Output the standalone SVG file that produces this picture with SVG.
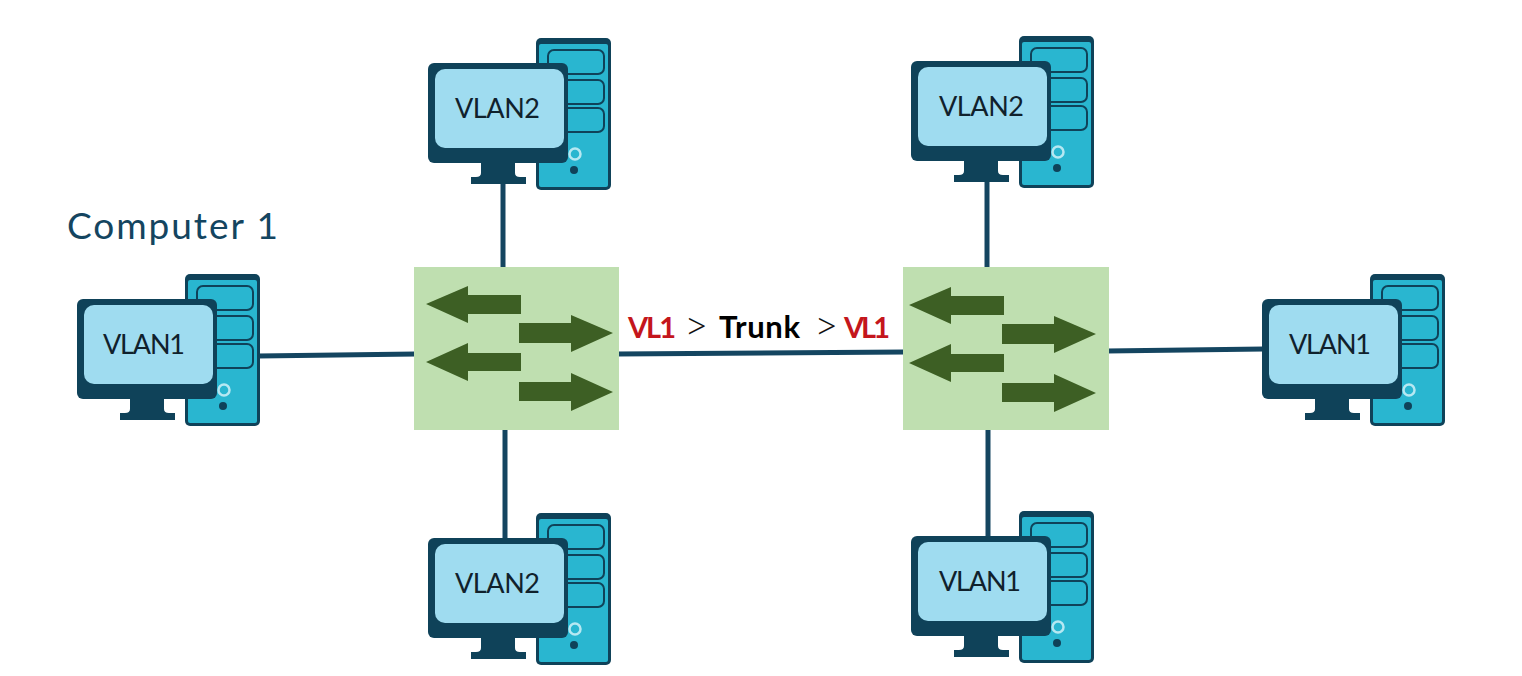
<svg xmlns="http://www.w3.org/2000/svg" width="1522" height="676" viewBox="0 0 1522 676">
<style>
.wire{stroke:#144560;stroke-width:5;fill:none}
.sw{fill:#bfdfb0}
.ar{fill:#3d5f24}
.t{font-family:"Lato","Liberation Sans",sans-serif}
.vl{font-size:27px;font-weight:400;fill:#10212c}
.cap{font-size:37px;font-weight:400;fill:#144560}
.tr{font-size:31px;font-weight:700;fill:#000}
.red{font-size:29px;font-weight:700;fill:#c4161c}
.gt{font-size:42px;font-weight:300;fill:#111}
</style>
<defs>
<g id="pc">
<rect x="108" y="0" width="75" height="152" rx="5" fill="#0f4259"/>
<rect x="111" y="6" width="69" height="143" rx="2" fill="#29b6d0"/>
<rect x="120" y="12" width="56" height="24" rx="6" fill="#29b6d0" stroke="#0f4259" stroke-width="2"/>
<rect x="120" y="42" width="56" height="24" rx="6" fill="#29b6d0" stroke="#0f4259" stroke-width="2"/>
<rect x="120" y="70" width="56" height="24" rx="6" fill="#29b6d0" stroke="#0f4259" stroke-width="2"/>
<circle cx="147" cy="116" r="5.5" fill="#29b6d0" stroke="#b6e8f2" stroke-width="2.5"/>
<circle cx="146" cy="132" r="4" fill="#0f4259"/>
<path d="M53 125H87V135Q87 139 92 139H98V146H43V139H48Q53 139 53 135Z" fill="#0f4259"/>
<rect x="0" y="25" width="140" height="100" rx="6" fill="#0f4259"/>
<rect x="7" y="31" width="129" height="79" rx="10" fill="#9fdcf0"/>
</g>
<g id="arrows" class="ar">
<polygon points="12,37 54,19 54,28 107,28 107,47 54,47 54,56"/>
<polygon points="105,56 157,56 157,48 199,66 157,85 157,76 105,76"/>
<polygon points="12,95 54,76 54,86 107,86 107,104 54,104 54,114"/>
<polygon points="105,115 157,115 157,106 199,125 157,144 157,134 105,134"/>
</g>
</defs>
<rect width="1522" height="676" fill="#fff"/>
<g id="connectors">
<line class="wire" x1="258" y1="356" x2="416" y2="354"/>
<line class="wire" x1="617" y1="354" x2="905" y2="352"/>
<line class="wire" x1="503" y1="183" x2="503" y2="269"/>
<line class="wire" x1="505" y1="428" x2="505" y2="541"/>
<line class="wire" x1="987" y1="180" x2="987" y2="269"/>
<line class="wire" x1="988" y1="428" x2="988" y2="538"/>
<line class="wire" x1="1107" y1="351" x2="1264" y2="349"/>
</g>
<g id="switch-left"><rect class="sw" x="414" y="267" width="205" height="163"/><use href="#arrows" x="414" y="267"/></g>
<g id="switch-right"><rect class="sw" x="903" y="267" width="206" height="163"/><use href="#arrows" x="897" y="268"/></g>
<g id="computer-1"><use href="#pc" x="77" y="274"/><text class="t vl" x="103" y="354" textLength="82">VLAN1</text></g>
<g id="computer-top-left"><use href="#pc" x="428" y="38"/><text class="t vl" x="455" y="118" textLength="85">VLAN2</text></g>
<g id="computer-bottom-left"><use href="#pc" x="428" y="513"/><text class="t vl" x="455" y="593" textLength="85">VLAN2</text></g>
<g id="computer-top-right"><use href="#pc" x="911" y="36"/><text class="t vl" x="939" y="116" textLength="85">VLAN2</text></g>
<g id="computer-bottom-right"><use href="#pc" x="911" y="511"/><text class="t vl" x="939" y="591" textLength="82">VLAN1</text></g>
<g id="computer-right"><use href="#pc" x="1262" y="274"/><text class="t vl" x="1289" y="354" textLength="82">VLAN1</text></g>
<text class="t cap" x="67" y="239" textLength="211">Computer 1</text>
<g id="trunk-label">
<text class="t red" x="628" y="338" textLength="48">VL1</text>
<text class="t gt" x="684" y="340">&gt;</text>
<text class="t tr" x="719" y="338" textLength="81">Trunk</text>
<text class="t gt" x="814" y="340">&gt;</text>
<text class="t red" x="844" y="338" textLength="46">VL1</text>
</g>
</svg>
